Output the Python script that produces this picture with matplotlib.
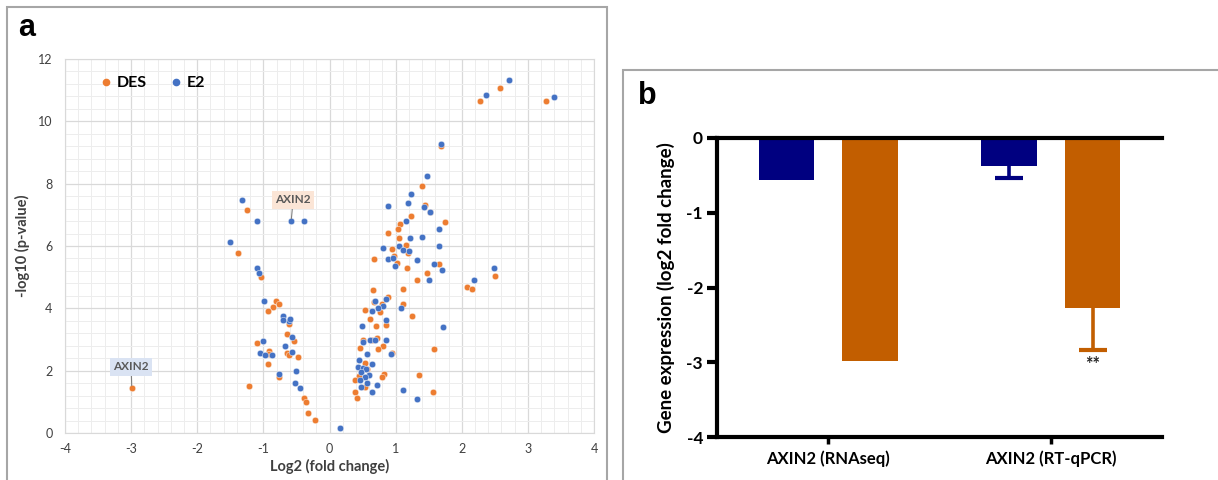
import matplotlib
matplotlib.use("Agg")
import matplotlib.pyplot as plt
from matplotlib.ticker import MultipleLocator
from matplotlib.lines import Line2D
from matplotlib.patches import Rectangle

plt.rcParams["font.family"] = ["Lato", "DejaVu Sans"]
plt.rcParams["axes.unicode_minus"] = False

# --- panel a: volcano data (log2 fold change, -log10 p) ---
des_x = [2.27, 2.58, 3.28, 1.68, 1.40, 1.45, 1.52, 1.24, 1.74, 1.07, 1.04, 0.88, 1.05, 1.16,
         0.94, 1.18, 0.67, 0.97, 1.02, 1.66, 1.17, 1.48, 2.50, 1.33, 2.08, 2.16, 0.66, 1.11,
         0.88, 0.68, 0.80, 1.11, 0.54, 0.77, 1.25, 0.61, 0.70, 0.86, 0.51, 0.72, 0.64, 0.81,
         0.46, 0.73, 1.58, 0.95, 0.54, 0.56, 0.44, 0.39, 0.82, 0.80, 1.36, 0.53, 0.39, 0.42,
         1.57,
         -2.99, -1.25, -1.39, -1.04, -0.81, -0.76, -0.86, -0.93, -0.62, -0.64, -0.54, -1.10,
         -0.92, -0.64, -0.61, -0.47, -0.93, -0.76, -1.22, -0.38, -0.36, -0.33, -0.22, -0.91]
des_y = [10.65, 11.06, 10.64, 9.21, 7.94, 7.32, 7.08, 6.95, 6.77, 6.70, 6.56, 6.43, 6.26, 6.02,
         5.90, 5.76, 5.59, 5.67, 5.46, 5.42, 5.31, 5.12, 5.03, 4.90, 4.69, 4.63, 4.59, 4.61,
         4.36, 4.21, 4.14, 4.15, 3.94, 3.88, 3.77, 3.66, 3.44, 3.45, 3.00, 3.04, 2.99, 2.79,
         2.72, 2.70, 2.71, 2.58, 2.26, 2.04, 1.82, 1.71, 1.89, 1.79, 1.86, 1.49, 1.31, 1.13,
         1.32,
         1.43, 7.14, 5.76, 5.00, 4.23, 4.14, 4.03, 3.91, 3.51, 3.19, 2.95, 2.90,
         2.64, 2.58, 2.49, 2.44, 2.20, 1.79, 1.50, 1.11, 1.01, 0.65, 0.41, 2.55]

e2_x = [2.71, 2.36, 3.39, 1.69, 1.48, 1.24, 0.88, 1.19, 1.43, 1.52, 1.15, 1.66, 1.40, 1.21,
        1.05, 1.65, 0.81, 1.11, 1.20, 0.88, 0.96, 0.99, 1.33, 1.58, 1.70, 2.49, 1.50, 2.18,
        0.69, 0.86, 0.81, 0.74, 1.08, 0.64, 0.86, 0.49, 1.71, 0.50, 0.61, 0.69, 0.85, 0.57,
        0.93, 0.64, 0.45, 0.43, 0.51, 0.55, 0.48, 0.59, 0.54, 0.46, 0.56, 0.72, 0.47, 0.65,
        1.11, 1.33, 0.16,
        -1.33, -1.50, -1.09, -0.58, -0.39, -1.09, -1.07, -0.99, -0.71, -0.70, -0.61, -0.59,
        -0.56, -1.01, -0.67, -1.05, -0.97, -0.87, -0.56, -0.51, -0.76, -0.52, -0.45]
e2_y = [11.33, 10.85, 10.79, 9.28, 8.26, 7.66, 7.29, 7.37, 7.25, 7.08, 6.79, 6.56, 6.29, 6.25,
        6.01, 6.00, 5.93, 5.87, 5.85, 5.59, 5.61, 5.35, 5.55, 5.42, 5.22, 5.28, 4.90, 4.91,
        4.25, 4.29, 4.08, 4.01, 4.01, 3.93, 3.63, 3.42, 3.40, 2.93, 2.97, 2.99, 2.98, 2.53,
        2.54, 2.20, 2.34, 2.13, 2.09, 2.04, 1.96, 1.85, 1.80, 1.69, 1.62, 1.53, 1.46, 1.31,
        1.39, 1.08, 0.15,
        7.46, 6.13, 6.79, 6.79, 6.79, 5.31, 5.14, 4.22, 3.76, 3.64, 3.60, 3.66,
        3.09, 2.96, 2.78, 2.57, 2.49, 2.50, 2.61, 1.99, 1.90, 1.60, 1.45]

# --- panel b: AXIN2 expression ---
bar_categories = ["AXIN2 (RNAseq)", "AXIN2 (RT-qPCR)"]
e2_expr = [-0.56, -0.37]
des_expr = [-2.98, -2.27]
e2_err = [0.0, 0.16]
des_err = [0.0, 0.57]

ORANGE = "#ED7D31"
BLUE = "#4472C4"
NAVY = "#000080"
BROWN = "#C25E00"

fig = plt.figure(figsize=(12.18, 4.8), dpi=100)

# panel frames
fig.patches.append(Rectangle((7 / 1218, -0.05), 600 / 1218, 1.05 - 7 / 480,
                             transform=fig.transFigure, fill=False,
                             edgecolor="#A6A6A6", lw=1.5))
fig.patches.append(Rectangle((623 / 1218, -0.05), 0.6, 1.05 - 70 / 480,
                             transform=fig.transFigure, fill=False,
                             edgecolor="#A6A6A6", lw=1.5))
fig.text(18 / 1218, 1 - 36 / 480, "a", fontsize=22, fontweight="bold",
         family=["Liberation Sans"])
fig.text(638 / 1218, 1 - 104 / 480, "b", fontsize=22, fontweight="bold",
         family=["Liberation Sans"])

# ---------------- panel a ----------------
ax = fig.add_axes([65 / 1218, 47 / 480, 529 / 1218, 374 / 480])
ax.scatter(des_x, des_y, s=22, color=ORANGE, edgecolor="white", linewidth=0.3, zorder=3)
ax.scatter(e2_x, e2_y, s=22, color=BLUE, edgecolor="white", linewidth=0.3, zorder=4)
ax.set_xlim(-4, 4)
ax.set_ylim(0, 12)
ax.xaxis.set_major_locator(MultipleLocator(1))
ax.yaxis.set_major_locator(MultipleLocator(2))
ax.xaxis.set_minor_locator(MultipleLocator(0.2))
ax.yaxis.set_minor_locator(MultipleLocator(0.4))
ax.grid(which="major", color="#D9D9D9", lw=0.9, zorder=0)
ax.grid(which="minor", color="#EDEDED", lw=0.7, zorder=0)
ax.set_axisbelow(True)
for s in ax.spines.values():
    s.set_color("#D9D9D9")
ax.tick_params(which="both", length=0, labelsize=9, labelcolor="#404040")
ax.tick_params(axis="y", pad=9)
ax.tick_params(axis="x", pad=7)
ax.set_xlabel("Log2 (fold change)", fontsize=10.5, fontweight="bold", color="#404040", labelpad=3)
ax.set_ylabel("-log10 (p-value)", fontsize=10.5, fontweight="bold", color="#404040", labelpad=6)

handles = [Line2D([], [], marker="o", ls="", color=ORANGE, markersize=4.5, label="DES"),
           Line2D([], [], marker="o", ls="", color=BLUE, markersize=4.5, label="E2")]
leg = ax.legend(handles=handles, loc="center left", bbox_to_anchor=(0.035, 0.935), ncol=2,
                frameon=False, handletextpad=0.2, columnspacing=1.3, handlelength=1.0,
                prop={"weight": "bold", "size": 11.5})

# AXIN2 callouts
ax.annotate("AXIN2", xy=(des_x[57], des_y[57]), xytext=(-3.0, 2.12),
            ha="center", va="center", fontsize=8.5, fontweight="bold", color="#595959",
            bbox=dict(boxstyle="square,pad=0.3", fc="#DAE3F3", ec="none"),
            arrowprops=dict(arrowstyle="-", color="#7F7F7F", lw=0.8, shrinkA=0, shrinkB=2),
            zorder=5)
ax.annotate("AXIN2", xy=(e2_x[62], e2_y[62]), xytext=(-0.55, 7.48),
            ha="center", va="center", fontsize=8.5, fontweight="bold", color="#595959",
            bbox=dict(boxstyle="square,pad=0.3", fc="#FBE5D6", ec="none"),
            arrowprops=dict(arrowstyle="-", color="#7F7F7F", lw=0.8, shrinkA=0, shrinkB=2),
            zorder=5)

# ---------------- panel b ----------------
bx = fig.add_axes([717 / 1218, 43 / 480, 445 / 1218, 299 / 480])
pos = range(len(bar_categories))
off = 0.188
w = 0.25
bx.bar([p - off for p in pos], e2_expr, width=w, color=NAVY, zorder=2)
bx.bar([p + off for p in pos], des_expr, width=w, color=BROWN, zorder=2)


def lower_errbar(x, val, err, col):
    # only the lower whisker + cap, GraphPad style
    _, caps, _ = bx.errorbar(x, val, yerr=[[err], [0]], fmt="none", ecolor=col,
                             elinewidth=2.6, capsize=10, capthick=3, zorder=1)
    for c in caps:
        if abs(c.get_ydata()[0] - val) < 1e-9:
            c.set_visible(False)


for i in pos:
    if e2_err[i] > 0:
        lower_errbar(i - off, e2_expr[i], e2_err[i], NAVY)
    if des_err[i] > 0:
        lower_errbar(i + off, des_expr[i], des_err[i], BROWN)
bx.text(1 + off, des_expr[1] - des_err[1] - 0.07, "**", ha="center", va="top",
        fontsize=13, fontweight="bold", color="#222222")
bx.set_xlim(-0.5, 1.5)
bx.set_ylim(-4, 0)
bx.set_yticks([0, -1, -2, -3, -4])
bx.set_xticks(list(pos))
bx.set_xticklabels(bar_categories)
for side in ["left", "top", "bottom"]:
    bx.spines[side].set_linewidth(3)
    bx.spines[side].set_color("black")
bx.spines["right"].set_visible(False)
bx.tick_params(axis="y", length=7, width=3, labelsize=12.5, pad=3)
bx.tick_params(axis="x", length=5, width=2.5, labelsize=12, pad=5)
for lab in bx.get_xticklabels() + bx.get_yticklabels():
    lab.set_fontweight("bold")
bx.set_ylabel("Gene expression (log2 fold change)", fontsize=13.5, fontweight="bold", labelpad=8)

fig.savefig("out.png", dpi=100)
